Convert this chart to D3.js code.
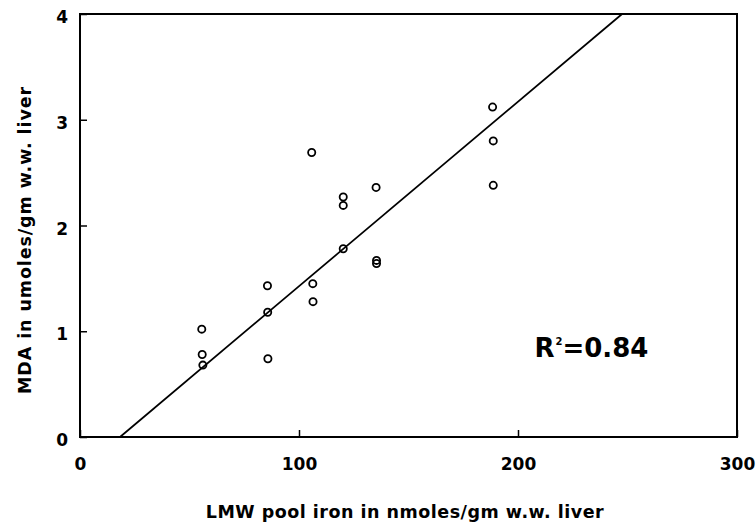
<!DOCTYPE html>
<html lang="en">
<head>
    <meta charset="UTF-8">
    <title>MDA vs LMW pool iron</title>
    <style>
        body {
            margin: 0;
            background: #fff;
        }
        svg text {
            font-family: 'DejaVu Sans', sans-serif;
            font-weight: bold;
            fill: #000;
        }
        .tick line {
            stroke: #000;
            stroke-width: 1.5px;
        }
        .tick text {
            font-size: 17px;
        }
    </style>
    <script src="https://d3js.org/d3.v7.min.js"></script>
</head>
<body>
<svg id="chart" width="756" height="524"></svg>
<script>
    // LMW pool iron (nmoles/gm) and MDA (umoles/gm)
    const ironValues = [55.6, 55.8, 56.1, 85.6, 85.7, 85.8, 105.8, 106.3, 106.4,
                        120.2, 120.2, 120.2, 135.2, 135.4, 135.4, 188.4, 188.7, 188.7];
    const mdaValues  = [1.02, 0.78, 0.68, 1.43, 1.18, 0.74, 2.69, 1.45, 1.28,
                        2.27, 2.19, 1.78, 2.36, 1.67, 1.64, 3.12, 2.80, 2.38];

    // regression line
    const fitSlope = 0.01745;
    const fitIntercept = -0.319;
    const rSquared = "0.84";

    const xTicks = [0, 100, 200, 300];
    const yTicks = [0, 1, 2, 3, 4];

    const xTitle = "LMW pool iron in nmoles/gm w.w. liver";
    const yTitle = "MDA in umoles/gm w.w. liver";

    const margin = {left: 80, top: 14, right: 19, bottom: 87};
    const width = 756 - margin.left - margin.right;
    const height = 524 - margin.top - margin.bottom;

    const svg = d3.select("#chart");
    const g = svg.append("g").attr("transform", `translate(${margin.left},${margin.top})`);

    const x = d3.scaleLinear().domain([0, 300]).range([0, width]);
    const y = d3.scaleLinear().domain([0, 4]).range([height, 0]);

    // axes with inward ticks
    const xAxis = g.append("g")
        .attr("transform", `translate(0,${height})`)
        .call(d3.axisBottom(x).tickValues(xTicks).tickSize(-7).tickPadding(21).tickFormat(d3.format("d")));
    xAxis.select(".domain").remove();

    const yAxis = g.append("g")
        .call(d3.axisLeft(y).tickValues(yTicks).tickSize(-7).tickPadding(12).tickFormat(d3.format("d")));
    yAxis.select(".domain").remove();
    yAxis.selectAll("text").attr("dy", "0.5em");

    // frame
    g.append("rect")
        .attr("x", 0).attr("y", 0)
        .attr("width", width).attr("height", height)
        .attr("fill", "none")
        .attr("stroke", "#000")
        .attr("stroke-width", 2);

    // fit line, from y=0 to y=4
    const fitX = [(0 - fitIntercept) / fitSlope, (4 - fitIntercept) / fitSlope];
    g.append("line")
        .attr("x1", x(fitX[0])).attr("y1", y(fitSlope * fitX[0] + fitIntercept))
        .attr("x2", x(fitX[1])).attr("y2", y(fitSlope * fitX[1] + fitIntercept))
        .attr("stroke", "#000")
        .attr("stroke-width", 1.7);

    // points
    g.selectAll("circle")
        .data(ironValues)
        .join("circle")
        .attr("cx", d => x(d))
        .attr("cy", (d, i) => y(mdaValues[i]))
        .attr("r", 3.6)
        .attr("fill", "none")
        .attr("stroke", "#000")
        .attr("stroke-width", 1.8);

    // R^2 label
    const rText = g.append("text")
        .attr("x", x(207.5))
        .attr("y", y(0.755))
        .style("font-size", "26px");
    rText.append("tspan").text("R");
    rText.append("tspan").attr("dy", -12).attr("dx", 1).style("font-size", "10px").text("2");
    rText.append("tspan").attr("dy", 12).attr("dx", 0).text("=" + rSquared);

    // axis titles
    svg.append("text")
        .attr("x", 405)
        .attr("y", 518)
        .attr("text-anchor", "middle")
        .style("font-size", "17.5px")
        .style("letter-spacing", "0.5px")
        .text(xTitle);

    svg.append("text")
        .attr("transform", "translate(31,240) rotate(-90)")
        .attr("text-anchor", "middle")
        .style("font-size", "17.5px")
        .style("letter-spacing", "0.9px")
        .text(yTitle);
</script>
</body>
</html>
